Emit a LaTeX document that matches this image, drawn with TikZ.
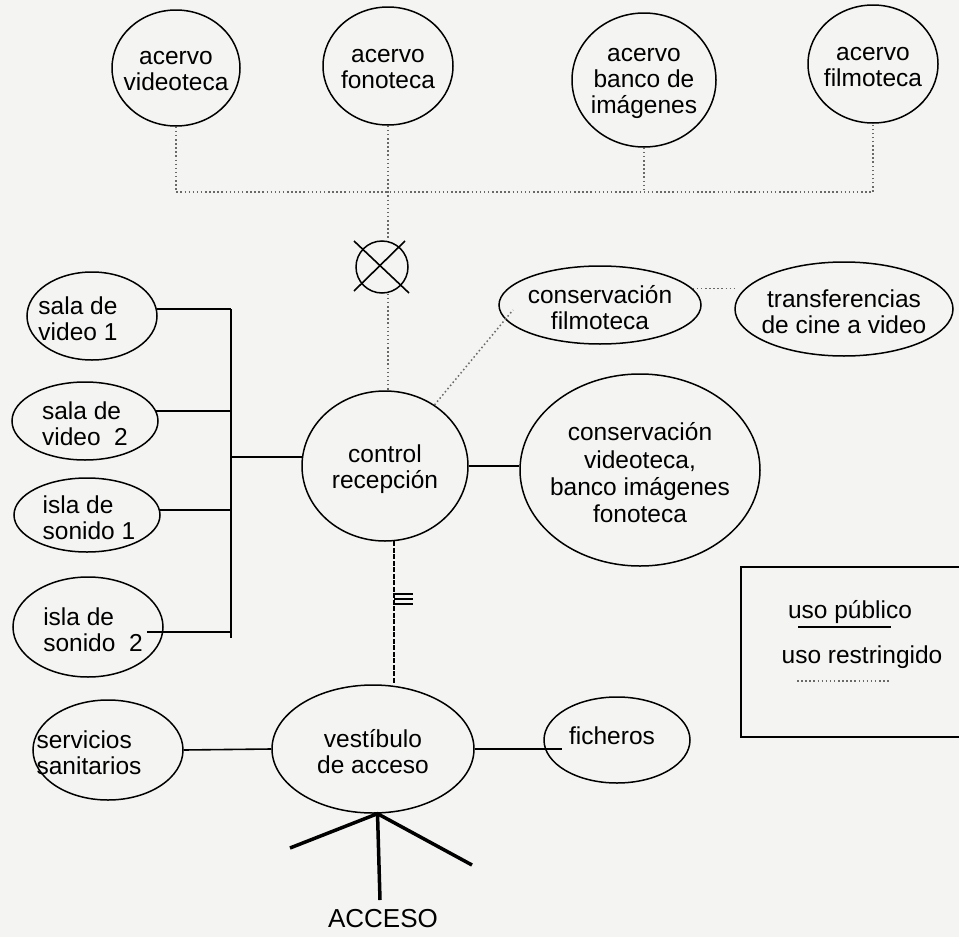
\documentclass[tikz,border=0pt]{standalone}
\usepackage{fontspec}
\setmainfont{Liberation Sans}
\usetikzlibrary{shapes.geometric}
\definecolor{paper}{RGB}{244,244,242}
\definecolor{dotgray}{RGB}{105,105,105}
\begin{document}
\begin{tikzpicture}[x=1pt,y=-1pt,
  room/.style={ellipse, draw=black, line width=1.5pt, inner sep=0pt},
  txt/.style={font=\fontsize{24.5}{26}\selectfont, align=center, inner sep=0pt, text=black},
  lbl/.style={txt, yshift=-3pt},
  pub/.style={draw=black, line width=1.6pt},
  res/.style={draw=dotgray, line width=1.5pt, dash pattern=on 1.5pt off 2.6pt},
  mixed/.style={draw=black, line width=1.6pt, dash pattern=on 5pt off 1.5pt},
  acc/.style={draw=black, line width=3.5pt}]
\useasboundingbox (0,0) rectangle (959,937);
\fill[paper] (0,0) rectangle (959,937);

% top collections
\node[room, minimum width=128pt, minimum height=116pt, label={[lbl]center:acervo\\videoteca}] (vid) at (176,68) {};
\node[room, minimum width=130pt, minimum height=118pt, label={[lbl]center:acervo\\fonoteca}] (fon) at (388,66) {};
\node[room, minimum width=144pt, minimum height=134pt, label={[lbl]center:acervo\\banco de\\imágenes}] (ban) at (644,80) {};
\node[room, minimum width=130pt, minimum height=118pt, label={[lbl]center:acervo\\filmoteca}] (fil) at (873,64) {};

% crossed circle
\node[circle, draw=black, line width=1.5pt, minimum size=52pt, inner sep=0pt] (cross) at (382,267) {};
\draw[pub] (cross.center) ++(-28,-26) -- ++(55,52);
\draw[pub] (cross.center) ++(23,-26) -- ++(-51,50);

% left column
\node[room, minimum width=130pt, minimum height=88pt, label={[lbl, align=left, xshift=-14pt]center:sala de\\video 1}] (sv1) at (92,316) {};
\node[room, minimum width=146pt, minimum height=78pt, label={[lbl, align=left]center:sala de\\video~~2}] (sv2) at (85,421) {};
\node[room, minimum width=146pt, minimum height=74pt, label={[lbl, align=left, xshift=2pt]center:isla de\\sonido 1}] (isla1) at (87,515) {};
\node[room, minimum width=150pt, minimum height=100pt, label={[lbl, align=left, xshift=5pt]center:isla de\\sonido~~2}] (isla2) at (88,627) {};
\node[room, minimum width=150pt, minimum height=100pt, label={[lbl, align=left, xshift=-19pt]center:servicios\\sanitarios}] (ss) at (108,750) {};

% centre
\node[room, minimum width=166pt, minimum height=150pt, label={[lbl]center:control\\recepción}] (ctrl) at (385,466) {};
\node[room, minimum width=202pt, minimum height=78pt, label={[lbl]center:conservación\\filmoteca}] (cf) at (600,305) {};
\node[room, minimum width=218pt, minimum height=94pt, label={[lbl]center:transferencias\\de cine a video}] (tr) at (844,309) {};
\node[room, minimum width=240pt, minimum height=192pt, label={[lbl, font=\fontsize{24.5}{27.3}\selectfont]center:{conservación\\videoteca,\\banco imágenes\\fonoteca}}] (cv) at (640,470) {};
\node[room, minimum width=202pt, minimum height=128pt, label={[lbl]center:vestíbulo\\de acceso}] (vest) at (373,749) {};
\node[room, minimum width=146pt, minimum height=86pt, label={[txt, xshift=-5pt, yshift=4pt]center:ficheros}] (fich) at (617,740) {};

% restricted (dotted) connections
\coordinate (topL) at (176,192);
\coordinate (topR) at (873,192);
\coordinate (cfin) at (513,310);
\draw[res] (vid.south) -- (topL) -- (topR) -- (fil.south);
\draw[res] (ban.south) -- (ban.south |- topL);
\draw[res] (fon.south) -- (fon.south |- cross.north);
\draw[res] (fon.south |- cross.south) -- (fon.south |- ctrl.north);
\draw[res] (ctrl.51) -- (cfin);
\draw[res] (cf.10) -- (cf.10 -| tr.west);

% public connections, left bus
\coordinate (busT) at (231,309);
\coordinate (busB) at (231,638);
\coordinate (isla2in) at (147,632);
\draw[pub] (busT) -- (busB);
\draw[pub] (sv1.6) -- (sv1.6 -| busT);
\draw[pub] (sv2.8) -- (sv2.8 -| busT);
\draw[pub] (isla1.4) -- (isla1.4 -| busT);
\draw[pub] (isla2in) -- (isla2in -| busT);
\draw[pub] (ctrl.174.5) -- (ctrl.174.5 -| busT);
\draw[pub] (ctrl.east) -- (ctrl.east -| cv.west);

% control to vestibule
\draw[mixed] (ctrl.-83) -- (ctrl.-83 |- vest.north);
\coordinate (eqm) at (394,594);
\draw[pub] (eqm) -- ++(19,0);
\draw[pub] (eqm) ++(0,5) -- ++(19,0);
\draw[pub] (eqm) ++(0,10) -- ++(19,0);

% vestibule connections
\coordinate (fichin) at (562,749);
\draw[pub] (ss.east) -- (vest.west);
\draw[pub] (vest.east) -- (fichin);

% access
\coordinate (accroot) at (vest.-86);
\coordinate (accL) at (290,848);
\coordinate (accR) at (472,865);
\coordinate (accD) at (380,900);
\draw[acc] (accL) -- (accroot) -- (accR);
\draw[acc] (accroot) -- (accD);
\node[txt, font=\fontsize{26}{27}\selectfont] (acceso) at (383,919) {ACCESO};

% legend
\coordinate (lgA) at (962,567);
\coordinate (lgB) at (741,567);
\coordinate (lgC) at (741,737);
\coordinate (lgD) at (962,737);
\draw[pub] (lgA) -- (lgB) -- (lgC) -- (lgD);
\node[txt] (lpub) at (850,612) {uso público};
\coordinate (lpubA) at (798,627);
\coordinate (lpubB) at (891,627);
\draw[pub] (lpubA) -- (lpubB);
\node[txt] (lres) at (862,657) {uso restringido};
\coordinate (lresA) at (797,681);
\coordinate (lresB) at (890,681);
\draw[res] (lresA) -- (lresB);
\end{tikzpicture}
\end{document}
